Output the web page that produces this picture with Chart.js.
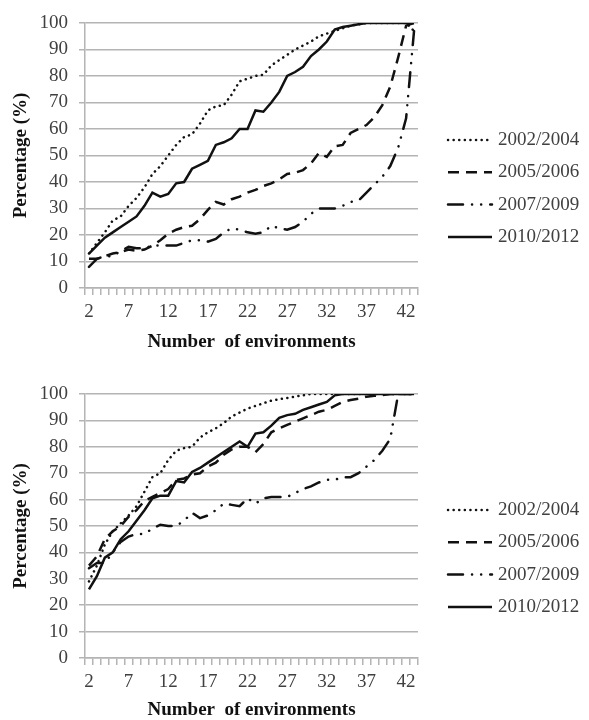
<!DOCTYPE html>
<html>
<head>
<meta charset="utf-8">
<script src="https://cdn.jsdelivr.net/npm/chart.js@4/dist/chart.umd.min.js"></script>
<style>
  html, body { margin: 0; padding: 0; background: #fff; }
  canvas { display: block; }
</style>
</head>
<body>
<canvas id="topChart" width="589" height="360"></canvas>
<canvas id="bottomChart" width="589" height="360"></canvas>
<script>
// Number of environments (category axis)
const environments = [2, 3, 4, 5, 6, 7, 8, 9, 10, 11, 12, 13, 14, 15, 16, 17, 18, 19, 20, 21, 22,
  23, 24, 25, 26, 27, 28, 29, 30, 31, 32, 33, 34, 35, 36, 37, 38, 39, 40, 41, 42, 43];
const yTicks = [0, 10, 20, 30, 40, 50, 60, 70, 80, 90, 100];
const seriesLabels = ["2002/2004", "2005/2006", "2007/2009", "2010/2012"];

// Top panel
const top2002 = [13, 17, 21, 25.5, 27, 31, 34, 38, 43, 46, 50, 54, 57, 58, 62, 67, 68.5, 69, 73, 78, 79,
  80, 80.5, 84, 86, 88, 90, 91.5, 93, 95, 96, 97, 98, 99, 99.5, 100, 100, 100, 100, 100, 100, 97];
const top2005 = [11, 11, 12, 13, 13.5, 14.5, 14, 14.5, 16, 18, 20.5, 22, 23, 23.5, 26, 29.5, 32.5, 31.5, 33.5, 34.5, 36,
  37, 38.5, 39.5, 41, 43, 43.5, 44.5, 47, 51, 49.5, 53.5, 54, 58.5, 60, 61.5, 64.5, 69, 76, 87, 99, 100];
const top2007 = [8, 11, 12, 12, 14, 15.5, 15, 15, 16, 16, 16, 16, 17, 18, 18, 17.5, 18.5, 21, 22.5, 22, 21,
  20.5, 21, 23.5, 22.5, 22, 23, 25, 28, 30, 30, 30, 31, 32.5, 33, 36, 39, 42, 46, 53, 64, 97];
const top2010 = [13, 16, 19, 21, 23, 25, 27, 31, 36, 34.5, 35.5, 39.5, 40, 45, 46.5, 48, 54, 55, 56.5, 60, 60,
  67, 66.5, 70, 74, 80, 81.5, 83.5, 87.5, 90, 93, 97.5, 98.5, 99, 99.5, 100, 100, 100, 100, 100, 100, 100];

// Bottom panel
const bottom2002 = [29, 35, 43, 48, 51, 54, 57.5, 63, 68.5, 70, 75, 78.5, 79.5, 80, 83.5, 85.5, 87, 89, 91.5, 93, 94.5,
  95.5, 96.5, 97.5, 98, 98.5, 99, 99.5, 100, 100, 100, 100, 100, 100, 100, 100, 100, 100, 100, 100, 100, 100];
const bottom2005 = [35, 38.5, 45, 48, 50, 53.5, 56, 59.5, 61, 62.5, 64, 67.5, 68, 69.5, 70, 72.5, 74, 77, 79, 80, 80,
  78, 81, 85.5, 87, 88.3, 89.5, 90.8, 92, 93.3, 94, 95.5, 97, 97.7, 98.2, 99, 99.3, 99.6, 100, 100, 100, 100];
const bottom2007 = [34, 36, 36, 40, 44, 46, 47, 47, 49, 50.5, 50, 50, 52, 55, 53, 54, 56, 58.5, 58, 57.5, 60.5,
  58.5, 60.5, 61, 61, 61, 62.5, 64, 65, 66.5, 67.5, 67.5, 68.5, 68.5, 70, 72.5, 75, 78.5, 83, 100, 100, 100];
const bottom2010 = [26, 31, 38, 40, 45, 48, 52, 56, 60.5, 61.5, 61.5, 67, 66.5, 70.5, 72, 74, 76, 78, 80, 82, 80,
  85, 85.5, 88, 91, 92, 92.5, 94, 95, 96, 97, 99.5, 100, 100, 100, 100, 100, 100, 100, 100, 100, 100];

const FONT = "'Liberation Serif', 'Times New Roman', serif";
const GRID = "#b4b4b4";
const INK = "#111111";

Chart.defaults.font.family = FONT;
Chart.defaults.font.size = 19;
Chart.defaults.color = "#404040";

// line styles: dotted, dashed, long dash-dot-dot, solid
const lineStyles = [
  { borderDash: [0.1, 5.5], borderCapStyle: "round" },
  { borderDash: [11, 7], borderCapStyle: "butt" },
  { borderDash: [15, 9, 0.1, 9, 0.1, 9], borderCapStyle: "round" },
  { borderDash: [], borderCapStyle: "butt" },
];

// legend drawn at the right, line sample + label
const sideLegend = {
  id: "sideLegend",
  afterDraw(chart, args, opts) {
    const ctx = chart.ctx;
    ctx.save();
    chart.data.datasets.forEach((ds, i) => {
      const y = opts.top + i * opts.spacing;
      ctx.beginPath();
      ctx.setLineDash(ds.borderDash);
      ctx.lineCap = ds.borderCapStyle;
      ctx.lineWidth = ds.borderWidth;
      ctx.strokeStyle = ds.borderColor;
      ctx.moveTo(opts.x, y);
      ctx.lineTo(opts.x + opts.length, y);
      ctx.stroke();
      ctx.setLineDash([]);
      ctx.fillStyle = "#404040";
      ctx.font = "19px " + FONT;
      ctx.textBaseline = "middle";
      ctx.textAlign = "left";
      ctx.fillText(ds.label, opts.x + opts.length + 6, y);
    });
    ctx.restore();
  },
};

function makeDatasets(values) {
  return values.map((data, i) => ({
    label: seriesLabels[i],
    data: data,
    borderColor: INK,
    borderWidth: 2.5,
    borderDash: lineStyles[i].borderDash,
    borderCapStyle: lineStyles[i].borderCapStyle,
    pointRadius: 0,
    tension: 0,
    fill: false,
  }));
}

function makeChart(id, values, layout) {
  return new Chart(document.getElementById(id), {
    type: "line",
    data: { labels: environments, datasets: makeDatasets(values) },
    options: {
      responsive: false,
      animation: false,
      layout: { padding: { top: layout.top, right: 171, bottom: 0, left: 0 } },
      plugins: {
        legend: { display: false },
        tooltip: { enabled: false },
        sideLegend: { x: 448, length: 44, top: layout.legendTop, spacing: 32.3 },
      },
      scales: {
        x: {
          type: "category",
          offset: true,
          grid: { offset: true, drawOnChartArea: false, drawTicks: true, tickLength: 7, color: GRID, lineWidth: 1.5 },
          border: { color: GRID, width: 1.5 },
          ticks: {
            autoSkip: false,
            maxRotation: 0,
            padding: 6,
            color: "#404040",
            callback: (v, i) => (i % 5 === 0 ? String(environments[i]) : ""),
          },
          title: {
            display: true,
            text: "Number  of environments",
            color: INK,
            font: { size: 19, weight: "bold", lineHeight: 1 },
            padding: { top: 0, bottom: layout.titleBottom },
          },
          afterFit: (scale) => { scale.height = layout.xHeight; },
        },
        y: {
          min: 0,
          max: 100,
          afterBuildTicks: (scale) => { scale.ticks = yTicks.map((v) => ({ value: v })); },
          grid: { color: GRID, lineWidth: 1.5, tickLength: 6 },
          border: { color: GRID, width: 1.5 },
          ticks: { padding: 11, color: "#404040" },
          title: {
            display: true,
            text: "Percentage (%)",
            color: INK,
            font: { size: 19, weight: "bold", lineHeight: 1 },
            padding: { top: 12, bottom: 0 },
          },
          afterFit: (scale) => { scale.width = 85; },
        },
      },
    },
    plugins: [sideLegend],
  });
}

makeChart("topChart", [top2002, top2005, top2007, top2010],
  { top: 23, xHeight: 72, titleBottom: 8, legendTop: 140 });
makeChart("bottomChart", [bottom2002, bottom2005, bottom2007, bottom2010],
  { top: 34, xHeight: 62, titleBottom: 0, legendTop: 150 });
</script>
</body>
</html>
